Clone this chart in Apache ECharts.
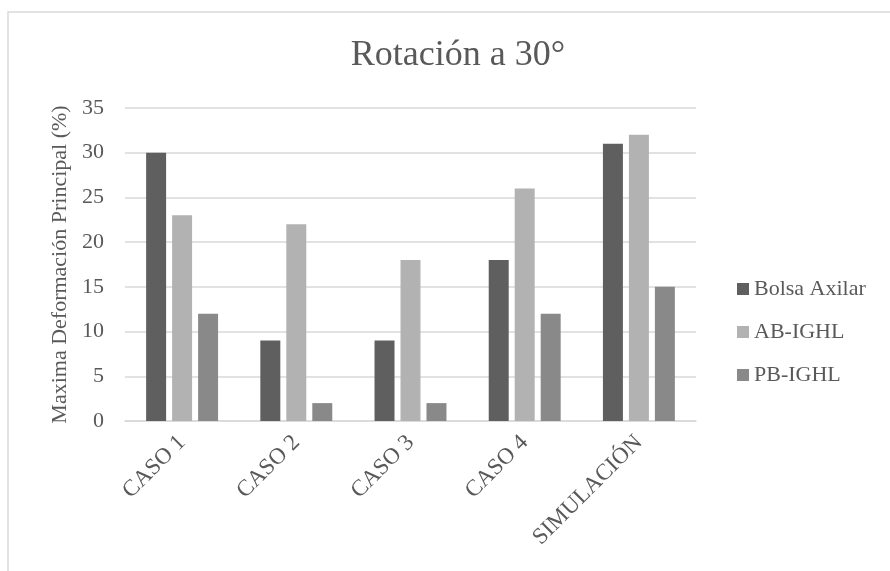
<!DOCTYPE html>
<html><head><meta charset="utf-8">
<script src="https://cdn.jsdelivr.net/npm/echarts@6/dist/echarts.min.js"></script>
<style>html,body{margin:0;padding:0;background:#fff}#c{width:890px;height:571px}</style>
</head><body><div id="c"></div>
<script>
const categories = ['CASO 1', 'CASO 2', 'CASO 3', 'CASO 4', 'SIMULACIÓN'];
const bolsaAxilar = [30, 9, 9, 18, 31];
const abIghl = [23, 22, 18, 26, 32];
const pbIghl = [12, 2, 2, 12, 15];
const seriesNames = ['Bolsa Axilar', 'AB-IGHL', 'PB-IGHL'];
const colors = ['#5f5f5f', '#b2b2b2', '#898989'];
const font = 'Liberation Serif';
const txt = '#595959';
const chart = echarts.init(document.getElementById('c'));
chart.setOption({
  animation: false,
  color: colors,
  graphic: [{type: 'rect', shape: {x: 8, y: 12, width: 1000, height: 700}, style: {fill: 'none', stroke: '#d9d9d9', lineWidth: 1.5}, silent: true}],
  title: {text: 'Rotación a 30°', left: 453, textAlign: 'center', top: 33,
    textStyle: {fontFamily: font, fontSize: 36, fontWeight: 'normal', color: txt}},
  legend: {orient: 'vertical', left: 732, top: 273, itemWidth: 12, itemHeight: 12, itemGap: 21,
    icon: 'rect', textStyle: {fontFamily: font, fontSize: 22, color: txt}, data: seriesNames},
  grid: {left: 125, right: 194, top: 108, bottom: 150, containLabel: false},
  xAxis: {type: 'category', data: categories,
    axisLine: {lineStyle: {color: '#d9d9d9', width: 1.5}}, axisTick: {show: false},
    axisLabel: {rotate: 45, interval: 0, margin: 18, fontFamily: font, fontSize: 23, color: txt}},
  yAxis: {type: 'value', min: 0, max: 35, interval: 5,
    name: 'Maxima Deformación Principal (%)', nameLocation: 'middle', nameGap: 52,
    nameTextStyle: {fontFamily: font, fontSize: 22, color: txt},
    axisLine: {show: false}, axisTick: {show: false},
    splitLine: {lineStyle: {color: '#d9d9d9', width: 1.5}},
    axisLabel: {margin: 21, fontFamily: font, fontSize: 22, color: txt}},
  series: [
    {name: seriesNames[0], type: 'bar', data: bolsaAxilar, barGap: '30%', barCategoryGap: '37%'},
    {name: seriesNames[1], type: 'bar', data: abIghl, barGap: '30%', barCategoryGap: '37%'},
    {name: seriesNames[2], type: 'bar', data: pbIghl, barGap: '30%', barCategoryGap: '37%'}
  ]
});
</script></body></html>
